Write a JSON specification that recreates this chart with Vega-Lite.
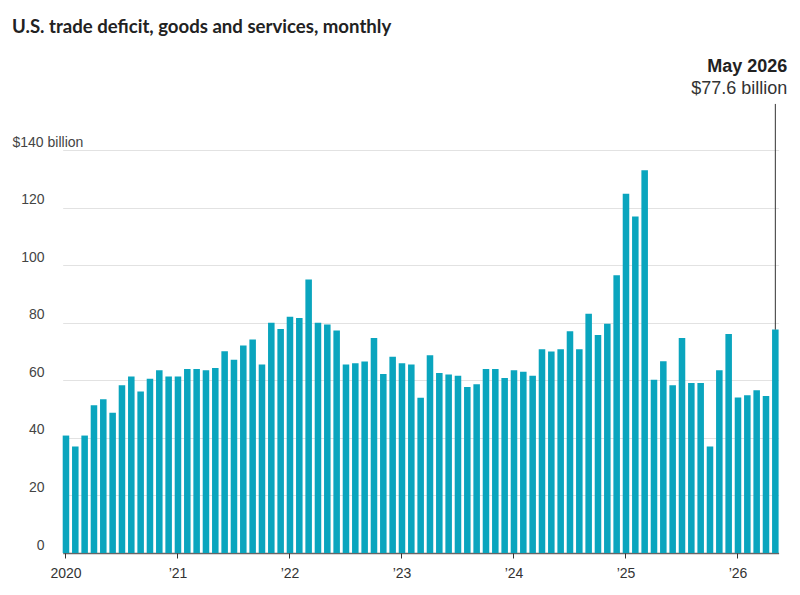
{
  "$schema": "https://vega.github.io/schema/vega-lite/v6.json",
  "width": 775,
  "height": 403,
  "autosize": {"type": "none"},
  "padding": {"left": 12, "right": 13, "top": 150, "bottom": 42},
  "background": "white",
  "title": {
    "text": "U.S. trade deficit, goods and services, monthly",
    "anchor": "start",
    "frame": "group",
    "orient": "top",
    "offset": 7,
    "baseline": "alphabetic",
    "font": "Lato",
    "fontSize": 18.6,
    "fontWeight": "bold",
    "color": "#222222"
  },
  "config": {
    "view": {"stroke": null},
    "font": "Liberation Sans"
  },
  "data": {
    "values": [
      {"month": "2020-01", "deficit": 40.8}, {"month": "2020-02", "deficit": 37.0}, {"month": "2020-03", "deficit": 40.8},
      {"month": "2020-04", "deficit": 51.3}, {"month": "2020-05", "deficit": 53.4}, {"month": "2020-06", "deficit": 48.7},
      {"month": "2020-07", "deficit": 58.3}, {"month": "2020-08", "deficit": 61.3}, {"month": "2020-09", "deficit": 56.1},
      {"month": "2020-10", "deficit": 60.5}, {"month": "2020-11", "deficit": 63.5}, {"month": "2020-12", "deficit": 61.3},
      {"month": "2021-01", "deficit": 61.3}, {"month": "2021-02", "deficit": 63.9}, {"month": "2021-03", "deficit": 63.9},
      {"month": "2021-04", "deficit": 63.5}, {"month": "2021-05", "deficit": 64.3}, {"month": "2021-06", "deficit": 70.1},
      {"month": "2021-07", "deficit": 67.1}, {"month": "2021-08", "deficit": 72.1}, {"month": "2021-09", "deficit": 74.2},
      {"month": "2021-10", "deficit": 65.5}, {"month": "2021-11", "deficit": 80.0}, {"month": "2021-12", "deficit": 77.8},
      {"month": "2022-01", "deficit": 82.1}, {"month": "2022-02", "deficit": 81.6}, {"month": "2022-03", "deficit": 95.0},
      {"month": "2022-04", "deficit": 80.0}, {"month": "2022-05", "deficit": 79.4}, {"month": "2022-06", "deficit": 77.3},
      {"month": "2022-07", "deficit": 65.5}, {"month": "2022-08", "deficit": 65.9}, {"month": "2022-09", "deficit": 66.5},
      {"month": "2022-10", "deficit": 74.7}, {"month": "2022-11", "deficit": 62.2}, {"month": "2022-12", "deficit": 68.2},
      {"month": "2023-01", "deficit": 65.9}, {"month": "2023-02", "deficit": 65.5}, {"month": "2023-03", "deficit": 53.9},
      {"month": "2023-04", "deficit": 68.7}, {"month": "2023-05", "deficit": 62.5}, {"month": "2023-06", "deficit": 62.0},
      {"month": "2023-07", "deficit": 61.6}, {"month": "2023-08", "deficit": 57.7}, {"month": "2023-09", "deficit": 58.6},
      {"month": "2023-10", "deficit": 63.9}, {"month": "2023-11", "deficit": 63.9}, {"month": "2023-12", "deficit": 60.8},
      {"month": "2024-01", "deficit": 63.5}, {"month": "2024-02", "deficit": 63.0}, {"month": "2024-03", "deficit": 61.6},
      {"month": "2024-04", "deficit": 70.8}, {"month": "2024-05", "deficit": 70.0}, {"month": "2024-06", "deficit": 70.8},
      {"month": "2024-07", "deficit": 77.0}, {"month": "2024-08", "deficit": 70.8}, {"month": "2024-09", "deficit": 83.1},
      {"month": "2024-10", "deficit": 75.7}, {"month": "2024-11", "deficit": 79.6}, {"month": "2024-12", "deficit": 96.5},
      {"month": "2025-01", "deficit": 124.8}, {"month": "2025-02", "deficit": 116.9}, {"month": "2025-03", "deficit": 133.0},
      {"month": "2025-04", "deficit": 60.2}, {"month": "2025-05", "deficit": 66.6}, {"month": "2025-06", "deficit": 58.3},
      {"month": "2025-07", "deficit": 74.7}, {"month": "2025-08", "deficit": 59.1}, {"month": "2025-09", "deficit": 59.1},
      {"month": "2025-10", "deficit": 37.0}, {"month": "2025-11", "deficit": 63.5}, {"month": "2025-12", "deficit": 76.1},
      {"month": "2026-01", "deficit": 54.0}, {"month": "2026-02", "deficit": 54.8}, {"month": "2026-03", "deficit": 56.5},
      {"month": "2026-04", "deficit": 54.5}, {"month": "2026-05", "deficit": 77.6}
    ]
  },
  "encoding": {
    "x": {
      "field": "month",
      "type": "ordinal",
      "sort": null,
      "scale": {"range": [50.7, 766.6], "paddingInner": 0.3, "paddingOuter": 0},
      "axis": {
        "title": null,
        "values": ["2020-01", "2021-01", "2022-01", "2023-01", "2024-01", "2025-01", "2026-01"],
        "labelExpr": "datum.value == '2020-01' ? '2020' : '\u2019' + substring(datum.value, 2, 4)",
        "labelAngle": 0,
        "labelFont": "Liberation Sans",
        "labelFontSize": 14,
        "labelColor": "#333333",
        "labelPadding": 8,
        "domain": false,
        "tickColor": "#333333",
        "tickSize": 5,
        "tickWidth": 1,
        "grid": false
      }
    }
  },
  "layer": [
    {
      "mark": {"type": "bar", "color": "#0aa5be"},
      "encoding": {
        "y": {
          "field": "deficit",
          "type": "quantitative",
          "scale": {"domain": [0, 140], "nice": false},
          "axis": {
            "title": null,
            "values": [0, 20, 40, 60, 80, 100, 120, 140],
            "labelExpr": "datum.value == 140 ? '$140 billion' : datum.label",
            "labelAlign": {"condition": {"test": "datum.value == 140", "value": "left"}, "value": "right"},
            "labelPadding": {"condition": {"test": "datum.value == 140", "value": 0}, "value": -32},
            "labelBaseline": "alphabetic",
            "labelOffset": -4,
            "labelFont": "Liberation Sans",
            "labelFontSize": 14,
            "labelColor": "#444444",
            "ticks": false,
            "domain": false,
            "grid": true,
            "gridColor": {"condition": {"test": "datum.value == 0", "value": "#666666"}, "value": "#e2e2e2"},
            "gridWidth": {"condition": {"test": "datum.value == 0", "value": 1.5}, "value": 1},
            "zindex": 0
          }
        }
      }
    },
    {
      "transform": [{"filter": "datum.month == '2026-05'"}],
      "mark": {"type": "rule", "color": "#333333", "strokeWidth": 1},
      "encoding": {
        "y": {"field": "deficit", "type": "quantitative"},
        "y2": {"datum": 156}
      }
    },
    {
      "transform": [{"filter": "datum.month == '2026-05'"}],
      "mark": {"type": "text", "align": "right", "baseline": "middle", "dx": 12, "font": "Liberation Sans", "fontSize": 18, "fontWeight": "bold", "color": "#222222"},
      "encoding": {
        "y": {"datum": 168.7},
        "text": {"value": "May 2026"}
      }
    },
    {
      "transform": [{"filter": "datum.month == '2026-05'"}],
      "mark": {"type": "text", "align": "right", "baseline": "middle", "dx": 12, "font": "Liberation Sans", "fontSize": 18, "color": "#333333"},
      "encoding": {
        "y": {"datum": 161.3},
        "text": {"value": "$77.6 billion"}
      }
    }
  ]
}
